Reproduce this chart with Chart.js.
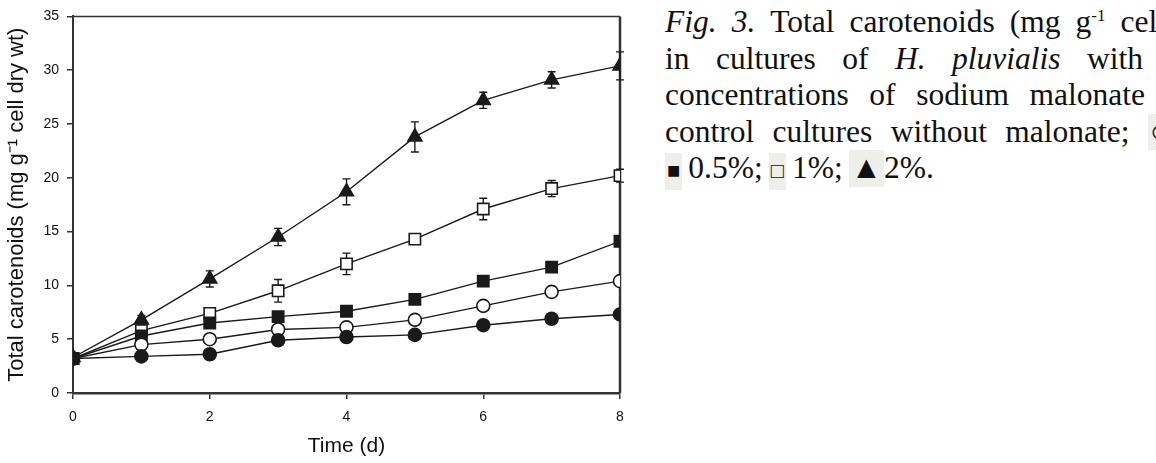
<!DOCTYPE html>
<html>
<head>
<meta charset="utf-8">
<script src="https://cdn.jsdelivr.net/npm/chart.js@4.4.0/dist/chart.umd.min.js"></script>
<style>
  html, body { margin: 0; padding: 0; background: #fff; overflow: hidden; }
  body { width: 1156px; height: 463px; position: relative; }
  #wrap { position: absolute; left: 0; top: 0; width: 650px; height: 463px; }
  .cap { position: absolute; left: 665px; font-family: "Liberation Serif", serif; font-size: 31.5px;
         color: #111; line-height: 36.5px; white-space: nowrap; display: flex; align-items: baseline;
         justify-content: space-between; }
  .sym { background: #eeeeea; padding: 0 2px; }
</style>
</head>
<body>
<div id="wrap"><canvas id="chart" width="650" height="463"></canvas></div>

<div class="cap" style="top:4px; width:501px;"><span><i>Fig.</i></span><span><i>3.</i></span><span>Total</span><span>carotenoids</span><span>(mg</span><span>g<sup style="font-size:17px; line-height:0">-1</sup></span><span>cell</span></div>
<div class="cap" style="top:40.5px; width:478px;"><span>in</span><span>cultures</span><span>of</span><span><i>H.</i></span><span><i>pluvialis</i></span><span>with</span></div>
<div class="cap" style="top:77px; width:480px;"><span>concentrations</span><span>of</span><span>sodium</span><span>malonate</span></div>
<div class="cap" style="top:113.5px; width:506px;"><span>control</span><span>cultures</span><span>without</span><span>malonate;</span><span class="sym">○</span></div>
<div class="cap" style="top:150px; gap:6px; justify-content:flex-start;"><span class="sym" style="font-size:22px">■</span><span>0.5%;</span><span class="sym" style="font-size:22px">□</span><span>1%;</span><span class="sym">▲</span><span style="margin-left:-6px">2%.</span></div>

<script>
// time in days
var days = [0, 1, 2, 3, 4, 5, 6, 7, 8];

// total carotenoids, mg per g cell dry wt
var filledCircle = [3.2, 3.4, 3.6, 4.9, 5.2, 5.4, 6.3, 6.9, 7.3];
var openCircle   = [3.2, 4.5, 5.0, 5.9, 6.1, 6.8, 8.1, 9.4, 10.4];
var filledSquare = [3.2, 5.3, 6.5, 7.1, 7.6, 8.7, 10.4, 11.7, 14.1];
var openSquare   = [3.2, 5.8, 7.4, 9.5, 12.0, 14.3, 17.1, 19.0, 20.2];
var triangle     = [3.3, 6.8, 10.6, 14.5, 18.7, 23.8, 27.2, 29.1, 30.4];

// error bars (+/-)
var openSquareErr = [0, 0, 0.3, 1.05, 1.0, 0, 1.0, 0.75, 0.6];
var triangleErr   = [0, 0.4, 0.75, 0.8, 1.2, 1.4, 0.75, 0.75, 1.3];

var xTicks = [0, 2, 4, 6, 8];
var yTicks = [0, 5, 10, 15, 20, 25, 30, 35];

var ink = '#1a1a1a';

function pts(vals) {
    return vals.map(function (v, i) { return {x: days[i], y: v}; });
}

function series(label, vals, style, radius, filled, errs) {
    return {
        label: label,
        data: pts(vals),
        errs: errs,
        borderColor: ink,
        borderWidth: 1.4,
        pointStyle: style,
        pointRadius: radius,
        pointHoverRadius: radius,
        pointBorderWidth: 1.6,
        pointBorderColor: ink,
        pointBackgroundColor: filled ? ink : '#fff',
        tension: 0
    };
}

// top and right frame of the plot box
var frame = {
    id: 'frame',
    beforeDatasetsDraw: function (chart) {
        var a = chart.chartArea, c = chart.ctx;
        c.save();
        c.strokeStyle = '#333';
        c.lineWidth = 1.5;
        c.beginPath();
        c.moveTo(a.left, a.top);
        c.lineTo(a.right, a.top);
        c.stroke();
        c.lineWidth = 2.5;
        c.beginPath();
        c.moveTo(a.right, a.top);
        c.lineTo(a.right, a.bottom);
        c.stroke();
        c.restore();
    }
};

var errorBars = {
    id: 'errorBars',
    beforeDatasetsDraw: function (chart) {
        var c = chart.ctx, xs = chart.scales.x, ys = chart.scales.y;
        c.save();
        c.strokeStyle = ink;
        c.lineWidth = 1.4;
        chart.data.datasets.forEach(function (ds) {
            if (!ds.errs) return;
            ds.data.forEach(function (p, i) {
                var e = ds.errs[i];
                if (!e) return;
                var px = xs.getPixelForValue(p.x);
                var top = ys.getPixelForValue(p.y + e);
                var bot = ys.getPixelForValue(p.y - e);
                c.beginPath();
                c.moveTo(px, top); c.lineTo(px, bot);
                c.moveTo(px - 4, top); c.lineTo(px + 4, top);
                c.moveTo(px - 4, bot); c.lineTo(px + 4, bot);
                c.stroke();
            });
        });
        c.restore();
    }
};

var config = {
    type: 'line',
    data: {
        datasets: [
            series('control', filledCircle, 'circle', 6.5, true),
            series('open circle', openCircle, 'circle', 6.5, false),
            series('0.5%', filledSquare, 'rect', 8, true),
            series('1%', openSquare, 'rect', 8, false, openSquareErr),
            series('2%', triangle, 'triangle', 8, true, triangleErr)
        ]
    },
    options: {
        responsive: false,
        animation: false,
        events: [],
        layout: { padding: { top: 12, right: 30, left: 0, bottom: 0 } },
        plugins: { legend: { display: false }, tooltip: { enabled: false } },
        scales: {
            x: {
                type: 'linear',
                min: 0, max: 8,
                afterBuildTicks: function (s) { s.ticks = xTicks.map(function (v) { return {value: v}; }); },
                afterFit: function (s) { s.height = 70; },
                ticks: { color: '#111', font: { family: 'Liberation Sans', size: 14 }, padding: 10, maxRotation: 0 },
                grid: { drawOnChartArea: false, tickLength: 6, color: '#333', lineWidth: 1.5 },
                border: { color: '#333', width: 2.5 },
                title: { display: true, text: 'Time (d)', color: '#111',
                         font: { family: 'Liberation Sans', size: 21 }, padding: { top: 6 } }
            },
            y: {
                min: 0, max: 35,
                afterBuildTicks: function (s) { s.ticks = yTicks.map(function (v) { return {value: v}; }); },
                afterFit: function (s) { s.width = 73; },
                ticks: { color: '#111', font: { family: 'Liberation Sans', size: 14 }, padding: 8 },
                grid: { drawOnChartArea: false, tickLength: 6, color: '#333', lineWidth: 1.5 },
                border: { color: '#333', width: 2 },
                title: { display: true, text: 'Total carotenoids (mg g\u207B\u00B9 cell dry wt)', color: '#111',
                         font: { family: 'Liberation Sans', size: 22 }, padding: { bottom: 4 } }
            }
        }
    },
    plugins: [frame, errorBars]
};

var ctx = document.getElementById('chart').getContext('2d');
var chart = new Chart(ctx, config);
</script>
</body>
</html>
